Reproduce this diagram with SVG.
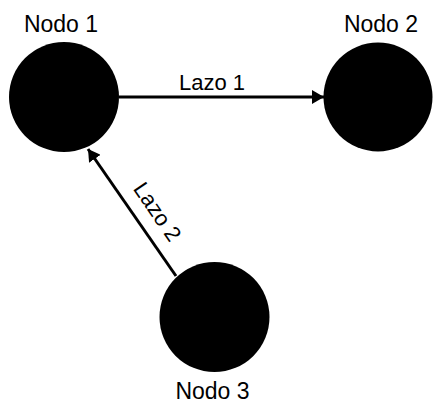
<svg xmlns="http://www.w3.org/2000/svg" width="433" height="404" viewBox="0 0 433 404">
  <style>
    .node { fill: #000; }
    .label { font-family: "Liberation Sans", Arial, sans-serif; font-size: 23px; fill: #000; }
    .edge-label { font-family: "Liberation Sans", Arial, sans-serif; font-size: 22px; fill: #000; }
    .edge { stroke: #000; stroke-width: 3; fill: none; }
  </style>
  <defs>
    <marker id="arrow" markerUnits="userSpaceOnUse" markerWidth="14" markerHeight="14" refX="12" refY="7" orient="auto">
      <path d="M0,0 L12,7 L0,14 Z" fill="#000"/>
    </marker>
  </defs>
  <rect width="433" height="404" fill="#fff"/>

  <g id="connectors">
    <g id="lazo1">
      <line class="edge" x1="119" y1="97" x2="324" y2="97" marker-end="url(#arrow)"/>
      <text class="edge-label" x="212" y="90" text-anchor="middle">Lazo 1</text>
    </g>
    <g id="lazo2">
      <line class="edge" x1="176" y1="276" x2="88" y2="149" marker-end="url(#arrow)"/>
      <text class="edge-label" transform="translate(157 212) rotate(55.6)" x="0" y="7" text-anchor="middle">Lazo 2</text>
    </g>
  </g>

  <g id="nodo1">
    <circle class="node" cx="64" cy="97" r="55"/>
    <text class="label" x="61" y="32" text-anchor="middle">Nodo 1</text>
  </g>
  <g id="nodo2">
    <circle class="node" cx="378" cy="97" r="54.5"/>
    <text class="label" x="381" y="32" text-anchor="middle">Nodo 2</text>
  </g>
  <g id="nodo3">
    <circle class="node" cx="214.5" cy="317" r="55"/>
    <text class="label" x="212.5" y="399" text-anchor="middle">Nodo 3</text>
  </g>
</svg>
